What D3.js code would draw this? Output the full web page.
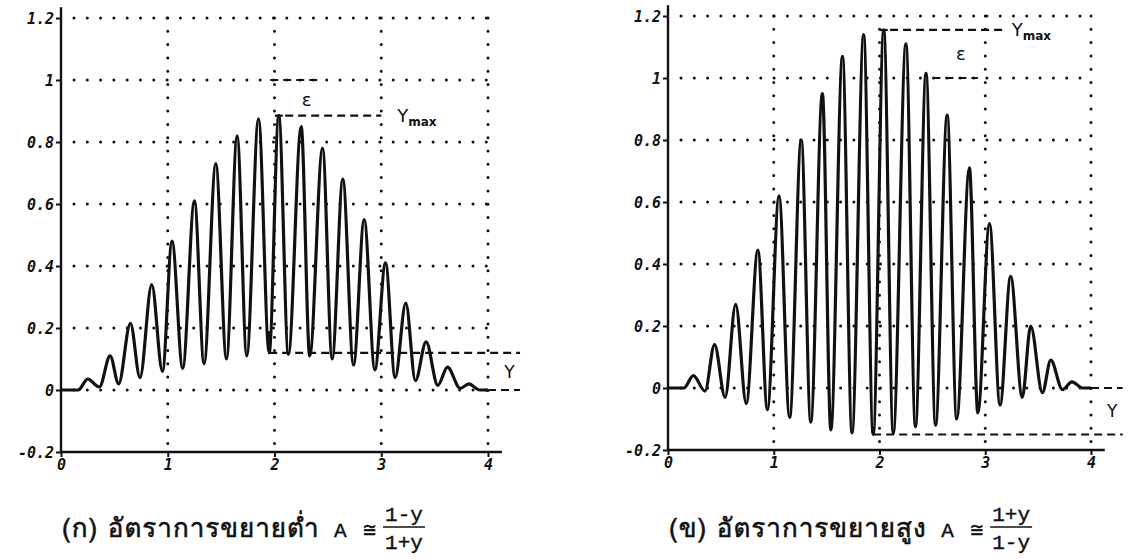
<!DOCTYPE html>
<html>
<head>
<meta charset="utf-8">
<script src="https://cdn.jsdelivr.net/npm/d3@7"></script>
<style>
  html, body { margin: 0; padding: 0; background: #fff; }
  svg { display: block; }
  .tick-label { font-family: "DejaVu Sans Mono", monospace; font-weight: bold; font-style: italic; font-size: 15px; fill: #111; }
  .note { font-family: "DejaVu Sans", sans-serif; fill: #111; }
  .caption { font-family: "Tlwg Typo", "Tlwg Mono", "Loma", "Garuda", "Noto Sans Thai", "DejaVu Sans Mono", monospace; font-size: 26px; letter-spacing: 1px; fill: #111; stroke: #111; stroke-width: 0.6px; }
  .mono { font-family: "Liberation Mono", "DejaVu Sans Mono", monospace; font-size: 21px; font-weight: normal; fill: #111; stroke: #111; stroke-width: 0.4px; }
</style>
</head>
<body>
<svg id="chart" width="1132" height="559"></svg>
<script>
// Axis ticks shared by both panels
const xTicks = [0, 1, 2, 3, 4];
const xTickLabels = ["0", "1", "2", "3", "4"];
const yTicks = [-0.2, 0, 0.2, 0.4, 0.6, 0.8, 1, 1.2];
const yTickLabels = ["-0.2", "0", "0.2", "0.4", "0.6", "0.8", "1", "1.2"];

// (ก) low gain response: successive extrema (time, value)
const lowGainT = [0, 0.16, 0.25, 0.36, 0.46, 0.54, 0.65, 0.74, 0.85, 0.95, 1.04, 1.14, 1.25, 1.34, 1.45, 1.55, 1.65, 1.74, 1.85, 1.95, 2.04, 2.13, 2.25, 2.33, 2.45, 2.54, 2.64, 2.74, 2.84, 2.94, 3.04, 3.13, 3.23, 3.32, 3.42, 3.53, 3.62, 3.74, 3.82, 3.92, 4.0];
const lowGainV = [0, 0, 0.035, 0.01, 0.11, 0.02, 0.215, 0.04, 0.34, 0.06, 0.48, 0.07, 0.61, 0.085, 0.73, 0.10, 0.82, 0.11, 0.875, 0.12, 0.885, 0.115, 0.85, 0.11, 0.78, 0.10, 0.68, 0.08, 0.55, 0.065, 0.41, 0.04, 0.28, 0.03, 0.155, 0.015, 0.074, 0.005, 0.02, 0, 0];

// (ข) high gain response: successive extrema (time, value)
const highGainT = [0, 0.15, 0.24, 0.35, 0.44, 0.54, 0.64, 0.74, 0.85, 0.94, 1.05, 1.15, 1.26, 1.35, 1.46, 1.54, 1.65, 1.74, 1.85, 1.94, 2.04, 2.13, 2.25, 2.34, 2.44, 2.53, 2.64, 2.73, 2.85, 2.93, 3.04, 3.14, 3.24, 3.35, 3.43, 3.54, 3.62, 3.73, 3.82, 3.92, 4.0];
const highGainV = [0, 0, 0.04, -0.01, 0.14, -0.03, 0.27, -0.05, 0.445, -0.07, 0.62, -0.095, 0.80, -0.11, 0.95, -0.135, 1.07, -0.145, 1.14, -0.15, 1.155, -0.145, 1.11, -0.125, 1.015, -0.12, 0.88, -0.10, 0.71, -0.08, 0.53, -0.055, 0.36, -0.03, 0.20, -0.015, 0.09, -0.005, 0.02, 0, 0];

// Annotation levels
const lowGainYmax = 0.885, lowGainFloor = 0.12, lowGainPeakT = 2.04, lowGainFloorT = 1.95;
const highGainYmax = 1.155, highGainFloor = -0.15, highGainPeakT = 2.04, highGainFloorT = 1.94;

const svg = d3.select("#chart");

function drawPanel(cfg) {
  const x = d3.scaleLinear().domain([0, 4]).range(cfg.xRange);
  const y = d3.scaleLinear().domain([-0.2, 1.2]).range(cfg.yRange);
  const g = svg.append("g");

  // dotted grid
  const dot = sel => sel.attr("stroke", "#111").attr("stroke-width", 3)
    .attr("stroke-linecap", "round").attr("stroke-dasharray", "0 13.3").attr("fill", "none");
  yTicks.filter(v => v > -0.2).forEach(v => {
    g.append("line").attr("x1", x(0) + 13).attr("x2", x(4)).attr("y1", y(v)).attr("y2", y(v)).call(dot);
  });
  xTicks.filter(v => v > 0).forEach(v => {
    g.append("line").attr("x1", x(v)).attr("x2", x(v)).attr("y1", y(1.2)).attr("y2", y(-0.2)).call(dot);
  });

  // axes
  const yAxis = d3.axisLeft(y).tickValues(yTicks).tickSize(5).tickFormat((d, i) => yTickLabels[i]);
  const xAxis = d3.axisBottom(x).tickValues(xTicks).tickSize(5).tickFormat((d, i) => xTickLabels[i]);
  const ya = g.append("g").attr("transform", `translate(${x(0)},0)`).call(yAxis);
  const xa = g.append("g").attr("transform", `translate(0,${y(-0.2)})`).call(xAxis);
  [ya, xa].forEach(a => {
    a.select(".domain").remove();
    a.selectAll(".tick line").attr("stroke", "#111").attr("stroke-width", 2);
    a.selectAll(".tick text").attr("class", "tick-label");
  });
  ya.selectAll(".tick text").attr("x", -7).attr("dy", "0.35em");
  xa.selectAll(".tick text").attr("y", 7).attr("dy", "0.75em");
  g.append("line").attr("x1", x(0)).attr("x2", x(0)).attr("y1", y(1.235)).attr("y2", y(-0.2))
    .attr("stroke", "#111").attr("stroke-width", 2.4);
  g.append("line").attr("x1", x(0)).attr("x2", x(4.13)).attr("y1", y(-0.2)).attr("y2", y(-0.2))
    .attr("stroke", "#111").attr("stroke-width", 2.4);

  // response curve
  const pts = cfg.t.map((t, i) => [t, cfg.v[i]]);
  const line = d3.line().x(d => x(d[0])).y(d => y(d[1])).curve(d3.curveMonotoneX);
  g.append("path").attr("d", line(pts)).attr("fill", "none").attr("stroke", "#111")
    .attr("stroke-width", 3.2).attr("stroke-linejoin", "round");

  // dashed markers
  const dash = sel => sel.attr("stroke", "#111").attr("stroke-width", 2.2).attr("stroke-dasharray", "8 5").attr("fill", "none");
  g.append("line").attr("x1", x(cfg.ymaxFrom)).attr("x2", x(cfg.ymaxTo)).attr("y1", y(cfg.ymax)).attr("y2", y(cfg.ymax)).call(dash);
  g.append("line").attr("x1", x(cfg.oneFrom)).attr("x2", x(cfg.oneTo)).attr("y1", y(1)).attr("y2", y(1)).call(dash);
  g.append("line").attr("x1", x(cfg.floorT)).attr("x2", x(4.3)).attr("y1", y(cfg.floor)).attr("y2", y(cfg.floor)).call(dash);
  g.append("line").attr("x1", x(4.0)).attr("x2", x(4.3)).attr("y1", y(0)).attr("y2", y(0)).call(dash);
  // floor bracket at the deepest swing
  g.append("line").attr("x1", x(cfg.floorT)).attr("x2", x(cfg.floorT))
    .attr("y1", y(cfg.floor)).attr("y2", y(cfg.floor + cfg.bracket)).attr("stroke", "#111").attr("stroke-width", 2.4);
  // bracket at the peak
  g.append("line").attr("x1", x(cfg.peakT) - 4).attr("x2", x(cfg.peakT) + 4).attr("y1", y(cfg.ymax)).attr("y2", y(cfg.ymax))
    .attr("stroke", "#111").attr("stroke-width", 2.2);

  // labels
  const ym = g.append("text").attr("class", "note").attr("x", x(cfg.ymaxLabelT)).attr("y", y(cfg.ymax) + 6)
    .attr("font-size", 18);
  ym.append("tspan").text("Y");
  ym.append("tspan").attr("font-size", 12).attr("font-weight", "bold").attr("dy", 4).text("max");
  g.append("text").attr("class", "note").attr("x", x(cfg.epsT)).attr("y", y(cfg.epsV)).attr("dy", "0.35em")
    .attr("text-anchor", "middle").attr("font-size", 18).text("ε");
  g.append("text").attr("class", "note").attr("x", x(4.2)).attr("y", y((cfg.floor + 0) / 2)).attr("dy", "0.36em")
    .attr("text-anchor", "middle").attr("font-size", 17).text("Y");

  // caption with fraction
  const cap = g.append("text").attr("class", "caption").attr("x", x(0) + 1).attr("y", 537);
  cap.append("tspan").text(cfg.caption);
  cap.append("tspan").attr("class", "mono").attr("letter-spacing", "2px").text(" A ≅ ");
  const w = cap.node().getComputedTextLength();
  const fx = x(0) + w + 6;
  g.append("text").attr("class", "mono").attr("x", fx + 21).attr("y", 521).attr("text-anchor", "middle").text(cfg.num);
  g.append("text").attr("class", "mono").attr("x", fx + 21).attr("y", 549).attr("text-anchor", "middle").text(cfg.den);
  g.append("line").attr("x1", fx).attr("x2", fx + 42).attr("y1", 527).attr("y2", 527).attr("stroke", "#111").attr("stroke-width", 1.6);
}

drawPanel({
  xRange: [61, 488], yRange: [452, 18], t: lowGainT, v: lowGainV,
  ymax: lowGainYmax, ymaxFrom: 2.1, ymaxTo: 3.0, ymaxLabelT: 3.15,
  oneFrom: 1.96, oneTo: 2.41, epsT: 2.3, epsV: 0.935,
  floor: lowGainFloor, floorT: lowGainFloorT, bracket: 0.07, peakT: lowGainPeakT,
  caption: "(ก) อัตราการขยายต่ำ", num: "1-y", den: "1+y"
});

drawPanel({
  xRange: [668, 1091], yRange: [450, 16], t: highGainT, v: highGainV,
  ymax: highGainYmax, ymaxFrom: 2.1, ymaxTo: 3.16, ymaxLabelT: 3.25,
  oneFrom: 2.5, oneTo: 2.93, epsT: 2.77, epsV: 1.08,
  floor: highGainFloor, floorT: highGainFloorT, bracket: 0.025, peakT: highGainPeakT,
  caption: "(ข) อัตราการขยายสูง", num: "1+y", den: "1-y"
});
</script>
</body>
</html>
